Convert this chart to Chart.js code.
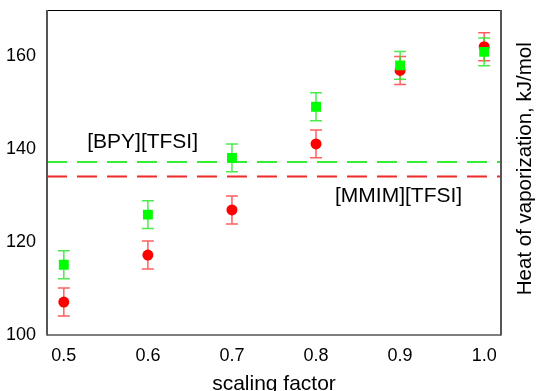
<!DOCTYPE html>
<html>
<head>
<meta charset="utf-8">
<script src="https://cdn.jsdelivr.net/npm/chart.js@4.4.1/dist/chart.umd.min.js"></script>
<style>
  html, body { margin: 0; padding: 0; overflow: hidden; background: #fff; }
  #wrap { position: relative; width: 536px; height: 400px; }
</style>
</head>
<body>
<div id="wrap"><canvas id="c"></canvas></div>
<script>
// ---- data ----
const scalingFactors = [0.5, 0.6, 0.7, 0.8, 0.9, 1.0];
const mmimValues = [107.2, 117.3, 127.0, 141.2, 157.0, 162.1];
const mmimErrors = [3, 3, 3, 3, 3, 3];
const bpyValues  = [115.2, 126.0, 138.2, 149.2, 158.1, 161.0];
const bpyErrors  = [3, 3, 3, 3, 3, 3];
const mmimReference = 134.2;
const bpyReference  = 137.3;
const xTickValues = [0.5, 0.6, 0.7, 0.8, 0.9, 1.0];
const yTickValues = [100, 120, 140, 160];
const xRange = [0.48, 1.02];
const yRange = [100, 170];
const seriesNames = ['[MMIM][TFSI]', '[BPY][TFSI]'];
const labelAnchors = [ {x: 0.8226, y: 129.9}, {x: 0.5278, y: 141.6} ];
const xTitle = 'scaling factor';
const yTitle = 'Heat of vaporization, kJ/mol';

const FONT = '"Liberation Sans", Arial, sans-serif';
const TICK_FONT = '"Liberation Sans Narrow", "Arial Narrow", "Liberation Sans", Arial, sans-serif';
const RED = '#ff0000', GREEN = '#00ff00';

const toPts = (ys) => scalingFactors.map((x, i) => ({x, y: ys[i]}));

const errorBars = {
  id: 'errorBars',
  beforeDatasetsDraw(chart) {
    const {ctx, scales: {x, y}} = chart;
    const sets = [
      {vals: mmimValues, errs: mmimErrors, color: 'rgba(255,40,40,0.75)'},
      {vals: bpyValues, errs: bpyErrors, color: 'rgba(30,230,30,0.8)'}
    ];
    ctx.save();
    ctx.lineWidth = 1.5;
    sets.forEach(s => {
      ctx.strokeStyle = s.color;
      scalingFactors.forEach((xv, i) => {
        const px = x.getPixelForValue(xv);
        const top = y.getPixelForValue(s.vals[i] + s.errs[i]);
        const bot = y.getPixelForValue(s.vals[i] - s.errs[i]);
        ctx.beginPath();
        ctx.moveTo(px, top); ctx.lineTo(px, bot);
        ctx.moveTo(px - 6, top); ctx.lineTo(px + 6, top);
        ctx.moveTo(px - 6, bot); ctx.lineTo(px + 6, bot);
        ctx.stroke();
      });
    });
    ctx.restore();
  }
};

const decorations = {
  id: 'decorations',
  afterDraw(chart) {
    const {ctx, chartArea: a, scales: {x, y}} = chart;
    ctx.save();
    // frame
    ctx.strokeStyle = '#000';
    ctx.lineWidth = 1;
    ctx.beginPath();
    ctx.moveTo(a.left, a.top + 0.5); ctx.lineTo(a.right, a.top + 0.5);
    ctx.moveTo(a.left, a.bottom - 0.5); ctx.lineTo(a.right, a.bottom - 0.5);
    ctx.stroke();
    ctx.strokeStyle = '#555';
    ctx.lineWidth = 2;
    ctx.beginPath();
    ctx.moveTo(a.left, a.top); ctx.lineTo(a.left, a.bottom);
    ctx.moveTo(a.right, a.top); ctx.lineTo(a.right, a.bottom);
    ctx.stroke();
    // series labels
    ctx.fillStyle = '#000';
    ctx.font = '21px ' + FONT;
    ctx.textAlign = 'left';
    ctx.textBaseline = 'middle';
    labelAnchors.forEach((p, i) => {
      ctx.fillText(seriesNames[i], x.getPixelForValue(p.x), y.getPixelForValue(p.y));
    });
    // right-side y title
    ctx.translate(a.right + 30, (a.top + a.bottom) / 2 - 4);
    ctx.rotate(-Math.PI / 2);
    ctx.textAlign = 'center';
    ctx.textBaseline = 'alphabetic';
    ctx.font = '20.5px ' + FONT;
    ctx.fillText(yTitle, 0, 0);
    ctx.restore();
  }
};

new Chart(document.getElementById('c'), {
  type: 'scatter',
  data: {
    datasets: [
      {
        label: seriesNames[1], data: toPts(bpyValues), order: 0,
        pointStyle: 'rect', pointRadius: 7, pointHoverRadius: 7,
        backgroundColor: GREEN, borderColor: GREEN, borderWidth: 0
      },
      {
        label: seriesNames[0], data: toPts(mmimValues), order: 1,
        pointStyle: 'circle', pointRadius: 5.5, pointHoverRadius: 5.5,
        backgroundColor: RED, borderColor: RED, borderWidth: 0
      },
      {
        type: 'line', label: 'bpy ref', order: 2,
        data: xRange.map(v => ({x: v, y: bpyReference})),
        borderColor: '#33ee33', borderWidth: 2, borderDash: [20, 10],
        pointRadius: 0, fill: false
      },
      {
        type: 'line', label: 'mmim ref', order: 3,
        data: xRange.map(v => ({x: v, y: mmimReference})),
        borderColor: '#ee2a2a', borderWidth: 2, borderDash: [20, 10],
        pointRadius: 0, fill: false
      }
    ]
  },
  options: {
    responsive: true,
    maintainAspectRatio: false,
    animation: false,
    events: [],
    layout: { padding: { top: 10, right: 35, left: 0, bottom: 0 } },
    plugins: { legend: { display: false }, tooltip: { enabled: false } },
    scales: {
      x: {
        type: 'linear', min: xRange[0], max: xRange[1],
        afterFit(s) { s.height = 64.5; s.paddingLeft = 0; s.paddingRight = 0; },
        afterBuildTicks(s) { s.ticks = xTickValues.map(v => ({value: v})); },
        grid: { display: false, drawTicks: false },
        border: { display: false },
        ticks: {
          padding: 10, color: '#000', font: { family: TICK_FONT, size: 18 },
          callback: v => v.toFixed(1), autoSkip: false, maxRotation: 0
        },
        title: {
          display: true, text: xTitle, color: '#000',
          font: { family: FONT, size: 21 }, padding: { top: 0, bottom: 3.4 }
        }
      },
      y: {
        type: 'linear', min: yRange[0], max: yRange[1],
        afterFit(s) { s.width = 47; s.paddingTop = 0; s.paddingBottom = 0; },
        afterBuildTicks(s) { s.ticks = yTickValues.map(v => ({value: v})); },
        grid: { display: false, drawTicks: false },
        border: { display: false },
        ticks: {
          padding: 11, color: '#000', font: { family: TICK_FONT, size: 18 },
          callback: v => String(v), autoSkip: false
        }
      }
    }
  },
  plugins: [errorBars, decorations]
});
</script>
</body>
</html>
